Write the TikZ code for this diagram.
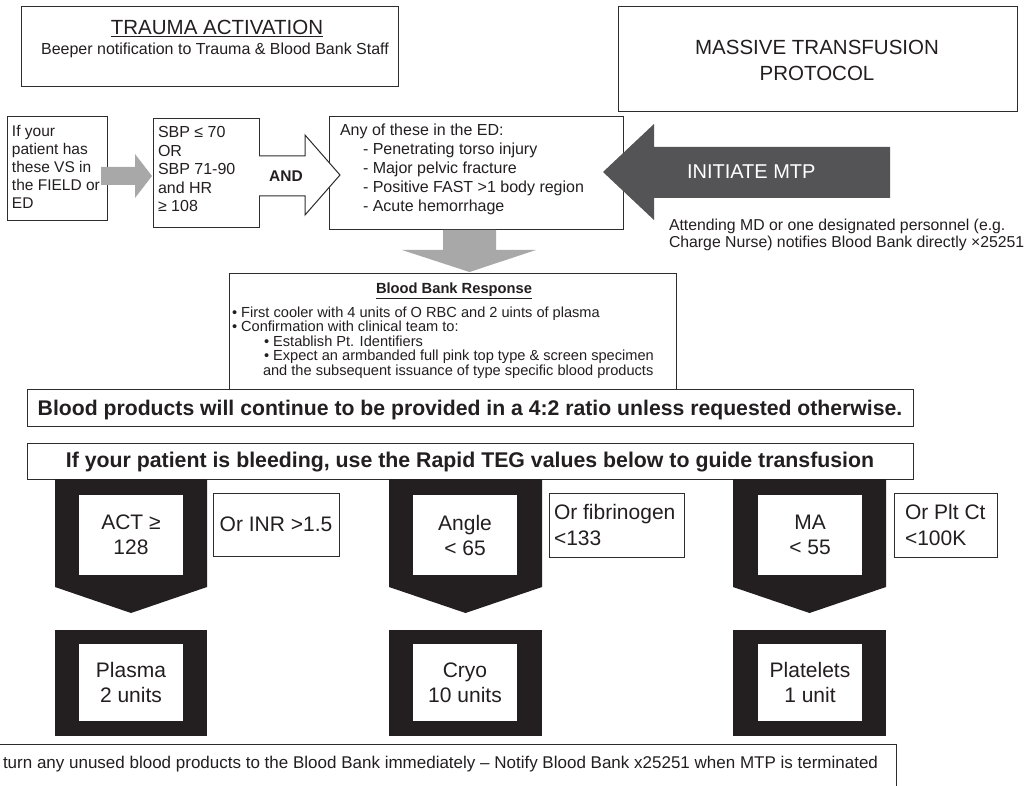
\documentclass[tikz,border=0pt]{standalone}
\usepackage{fontspec}
\setmainfont{Liberation Sans}
\newcommand{\myfs}[1]{\fontsize{#1}{#1}\selectfont}
\definecolor{linec}{RGB}{45,45,45}
\definecolor{textc}{RGB}{35,31,32}
\definecolor{grayarrow}{RGB}{168,168,168}
\definecolor{darkarrow}{RGB}{84,84,86}
\definecolor{blk}{RGB}{35,31,32}
\begin{document}
\begin{tikzpicture}[x=1pt,y=-1pt,
  box/.style={draw=linec, line width=1pt, fill=white, inner sep=0pt, outer sep=0pt},
  txt/.style={text=textc, inner sep=0pt, outer sep=0pt},
  wbox/.style={fill=white, inner sep=0pt, outer sep=0pt, text=textc, align=center, font={\fontsize{21}{25}\selectfont}},
  blockarrow/.style={line width=1pt, line join=miter},
]
\useasboundingbox (0,0) rectangle (1036,786);
\clip (0,0) rectangle (1036,786);
\fill[white] (0,0) rectangle (1036,786);

% ---------- top boxes ----------
\node[box, minimum width=377pt, minimum height=80pt] (trauma) at (209.5,47) {};
\node[txt, font=\myfs{20.5}, anchor=base] (traumaT) at (217,35) {\underline{TRAUMA ACTIVATION}};
\node[txt, font=\myfs{16}, anchor=base] (beeper) at (215,55) {Beeper notification to Trauma \& Blood Bank Staff};

\node[box, minimum width=399pt, minimum height=105pt] (mtp) at (817.5,59.5) {};
\node[txt, font=\myfs{20.5}, anchor=base] (mtp1) at (817,54.5) {MASSIVE TRANSFUSION};
\node[txt, font=\myfs{20.5}, anchor=base] (mtp2) at (817,80.5) {PROTOCOL};

% ---------- criteria row ----------
\node[box, minimum width=100pt, minimum height=104pt] (field) at (57,169) {};
\foreach \t [count=\i] in {If your, patient has, these VS in, the FIELD or, ED}
  \node[txt, font=\myfs{15.5}, anchor=base west] (field\i) at (12,{136.5+18*(\i-1)}) {\t};

\node[box, minimum width=106pt, minimum height=109pt] (sbp) at (206,173.5) {};
\foreach \t [count=\i] in {SBP ≤ 70, OR, SBP 71-90, and HR, ≥ 108}
  \node[txt, font=\myfs{16}, anchor=base west] (sbp\i) at (158,{138+18.4*(\i-1)}) {\t};

\node[box, minimum width=294pt, minimum height=113pt] (anyed) at (476,173.5) {};
\node[txt, font=\myfs{16}, anchor=base west] (any0) at (340,136) {Any of these in the ED:};
\foreach \t [count=\i] in {- Penetrating torso injury, - Major pelvic fracture, - Positive FAST >1 body region, - Acute hemorrhage}
  \node[txt, font=\myfs{16}, anchor=base west] (any\i) at (363,{136+19*\i}) {\t};

% gray arrow field -> sbp
\fill[grayarrow] (101,167) -- (135,167) -- (135,154) -- (152,176) -- (135,198) -- (135,185) -- (101,185) -- cycle;
% AND arrow sbp -> anyed
\draw[blockarrow, draw=linec, fill=white] (259,156) -- (305,156) -- (305,135) -- (340,175) -- (305,215) -- (305,196) -- (259,196);
\node[txt, font=\bfseries\myfs{15.5}] (andT) at (286,176) {AND};
% dark INITIATE MTP arrow
\fill[darkarrow] (890,147) -- (654,147) -- (654,124) -- (603,172) -- (654,220) -- (654,198) -- (890,198) -- cycle;
\node[txt, text=white, font=\myfs{20}, anchor=west] (initT) at (687,172) {INITIATE MTP};
\node[txt, font=\myfs{15.8}, anchor=base west] (att1) at (669,231) {Attending MD or one designated personnel (e.g.};
\node[txt, font=\myfs{15.8}, anchor=base west] (att2) at (669,248) {Charge Nurse) notifies Blood Bank directly ×25251};

% gray down arrow anyed -> blood bank
\fill[grayarrow] (443,230) -- (496,230) -- (496,250) -- (536,250) -- (469.5,272) -- (402,250) -- (443,250) -- cycle;

% ---------- blood bank response ----------
\node[box, minimum width=447pt, minimum height=115pt] (bbr) at (452.5,331.5) {};
\node[txt, font=\bfseries\myfs{14.7}, anchor=base] (bbrT) at (454,294) {\underline{Blood Bank Response}};
\node[txt, font=\myfs{14.6}, anchor=base west] (bbr1) at (232,317) {• First cooler with 4 units of O RBC and 2 uints of plasma};
\node[txt, font=\myfs{14.6}, anchor=base west] (bbr2) at (232,331) {• Confirmation with clinical team to:};
\node[txt, font=\myfs{14.6}, anchor=base west] (bbr3) at (264,346) {• Establish Pt. Identifiers};
\node[txt, font=\myfs{14.6}, anchor=base west] (bbr4) at (264,360.5) {• Expect an armbanded full pink top type \& screen specimen};
\node[txt, font=\myfs{14.6}, anchor=base west] (bbr5) at (263,375) {and the subsequent issuance of type specific blood products};

\node[box, minimum width=886pt, minimum height=37pt] (ratio) at (470,407.5) {};
\node[txt, font=\bfseries\myfs{21.2}, anchor=base] (ratioT) at (470,415.5) {Blood products will continue to be provided in a 4:2 ratio unless requested otherwise.};

% ---------- TEG ----------
\node[box, minimum width=886pt, minimum height=36pt] (teg) at (470,461) {};
\node[txt, font=\bfseries\myfs{21.3}, anchor=base] (tegT) at (470,467) {If your patient is bleeding, use the Rapid TEG values below to guide transfusion};

% black pentagon arrows
\fill[blk] (55,479) -- (207,479) -- (207,587) -- (131,613) -- (55,587) -- cycle;
\fill[blk] (389,479) -- (542,479) -- (542,587) -- (465.5,613) -- (389,587) -- cycle;
\fill[blk] (733,479) -- (886,479) -- (886,587) -- (809.5,613) -- (733,587) -- cycle;
\node[wbox, minimum width=104pt, minimum height=80pt] (act) at (131,535) {ACT ≥\\128};
\node[wbox, minimum width=104pt, minimum height=80pt] (angle) at (465,535) {Angle\\< 65};
\node[wbox, minimum width=104pt, minimum height=80pt] (ma) at (810,535) {MA\\< 55};

\node[box, minimum width=126pt, minimum height=63pt, font=\myfs{21}, text=textc] (orinr) at (276,524.5) {Or INR >1.5};
\node[box, minimum width=135pt, minimum height=64pt] (orfib) at (616.5,525) {};
\node[txt, font={\fontsize{21}{26}\selectfont}, align=left, anchor=west] (orfibT) at (554,525) {Or fibrinogen\\<133};
\node[box, minimum width=103pt, minimum height=64pt] (orplt) at (945.5,525) {};
\node[txt, font={\fontsize{21}{26}\selectfont}, align=left, anchor=west] (orpltT) at (905,525) {Or Plt Ct\\<100K};

% black product boxes
\fill[blk] (55,630) rectangle (207,736);
\fill[blk] (389,630) rectangle (542,736);
\fill[blk] (733,630) rectangle (886,736);
\node[wbox, minimum width=104pt, minimum height=77pt] (plasma) at (131,682.5) {Plasma\\2 units};
\node[wbox, minimum width=104pt, minimum height=77pt] (cryo) at (465,682.5) {Cryo\\10 units};
\node[wbox, minimum width=104pt, minimum height=77pt] (plt) at (810,682.5) {Platelets\\1 unit};

% ---------- bottom note ----------
\node[box, minimum width=906pt, minimum height=55pt] (note) at (443,771.5) {};
\node[txt, font=\myfs{17}, anchor=base west] (noteT) at (3,768) {turn any unused blood products to the Blood Bank immediately – Notify Blood Bank x25251 when MTP is terminated};
\end{tikzpicture}
\end{document}
